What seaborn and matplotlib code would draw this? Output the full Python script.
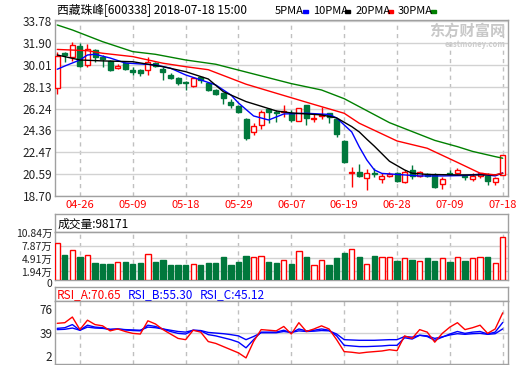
import matplotlib
matplotlib.use("Agg")
import matplotlib.pyplot as plt
from matplotlib.patches import Rectangle
from matplotlib.transforms import ScaledTranslation
import numpy as np
import seaborn as sns

sns.set_style("white")
plt.rcParams['font.family'] = ['Noto Sans CJK SC', 'DejaVu Sans']

# --- data ---
tick_idx = [3, 10, 17, 24, 31, 38, 45, 52, 59]
tick_labels = ["04-26", "05-09", "05-18", "05-29", "06-07", "06-19", "06-28", "07-09", "07-18"]
price_ticks = [18.70, 20.59, 22.47, 24.36, 26.24, 28.13, 30.01, 31.90, 33.78]

opens = [28.03, 31.07, 30.70, 31.67, 29.97, 31.30, 30.73, 30.36, 29.78, 30.16,
         29.58, 29.58, 29.58, 30.16, 29.64, 29.17, 28.86, 28.57, 28.22, 28.95,
         28.48, 27.85, 27.57, 26.84, 26.47, 25.35, 24.26, 24.83, 26.19, 25.98,
         25.93, 25.84, 25.20, 26.53, 25.35, 25.61, 25.84, 25.33, 23.45, 20.67,
         20.81, 20.24, 20.67, 20.13, 20.43, 20.67, 19.94, 20.95, 20.46, 20.58,
         20.52, 19.72, 20.67, 20.72, 20.43, 20.20, 20.43, 20.43, 19.94, 20.52]
highs = [31.13, 31.10, 31.99, 31.91, 31.78, 31.36, 30.87, 30.44, 30.07, 30.29,
         29.86, 29.64, 30.73, 30.24, 29.81, 29.29, 29.00, 28.66, 29.00, 29.00,
         28.57, 27.94, 27.62, 27.05, 26.56, 25.41, 24.98, 26.13, 26.27, 26.13,
         26.56, 26.13, 26.27, 26.59, 25.89, 26.36, 25.89, 25.41, 23.54, 21.24,
         21.47, 21.01, 21.09, 20.67, 20.75, 20.75, 20.95, 21.38, 20.89, 20.67,
         20.67, 20.32, 20.95, 21.15, 20.52, 20.67, 20.72, 20.67, 20.38, 22.26]
lows = [27.50, 30.27, 30.35, 29.85, 29.84, 30.30, 29.87, 29.50, 29.64, 29.58,
        29.15, 29.06, 29.15, 29.81, 28.72, 28.78, 28.28, 27.85, 28.14, 28.43,
        27.77, 27.42, 26.62, 26.27, 25.90, 23.54, 23.97, 24.49, 25.03, 25.12,
        25.55, 25.12, 25.20, 24.83, 25.12, 25.32, 25.03, 23.77, 21.58, 19.51,
        20.32, 19.22, 20.37, 19.80, 20.37, 19.94, 19.86, 20.18, 20.37, 20.32,
        19.42, 19.29, 20.52, 20.58, 20.09, 20.00, 20.24, 19.66, 19.66, 20.52]
closes = [30.79, 30.87, 31.74, 29.88, 31.35, 30.73, 30.50, 29.58, 29.92, 29.66,
          29.41, 29.29, 30.29, 29.92, 29.43, 28.91, 28.48, 28.43, 28.86, 28.72,
          27.85, 27.51, 27.14, 26.53, 25.93, 23.69, 24.77, 25.93, 25.98, 25.84,
          26.04, 25.26, 26.27, 25.41, 25.46, 25.70, 25.50, 24.03, 21.67, 20.80,
          20.46, 20.67, 20.61, 20.43, 20.61, 20.03, 20.81, 20.43, 20.81, 20.46,
          19.51, 20.15, 20.58, 20.95, 20.32, 20.43, 20.67, 20.03, 20.24, 22.26]

# volume in 万 shares
volume = [8.50, 5.64, 6.77, 5.19, 5.79, 3.84, 3.61, 3.61, 4.06, 4.06,
          3.61, 3.84, 6.02, 4.06, 4.59, 3.39, 3.39, 3.39, 3.76, 3.39,
          3.84, 3.84, 5.19, 3.39, 4.06, 5.42, 5.34, 5.57, 4.06, 3.84,
          4.51, 3.61, 6.55, 5.19, 3.31, 4.51, 3.39, 5.04, 6.09, 7.15,
          5.19, 3.76, 5.42, 5.34, 5.34, 4.36, 4.97, 4.59, 4.29, 4.97,
          4.36, 4.97, 4.14, 5.19, 4.36, 4.97, 5.19, 5.19, 3.84, 9.82]
vol_ticks = [0, 1.94, 4.91, 7.87, 10.84]
vol_labels = ["0", "1.94万", "4.91万", "7.87万", "10.84万"]

ma5_idx = [0, 1, 3, 4, 5, 7, 9, 13, 15, 17, 19, 21, 23, 24, 26, 28, 30, 33, 36, 37,
           39, 40, 41, 42, 43, 48, 51, 54, 56, 58, 59]
ma5 = [29.64, 29.92, 30.44, 30.87, 30.93, 30.61, 30.18, 30.01, 29.73, 29.15,
       28.72, 28.28, 27.42, 26.73, 25.61, 25.26, 25.78, 25.84, 25.74, 25.44,
       24.23, 22.94, 21.81, 20.95, 20.65, 20.43, 20.43, 20.47, 20.58, 20.43, 20.69]
ma10_idx = [0, 3, 6, 10, 14, 17, 20, 22, 25, 27, 29, 31, 35, 37, 39, 40, 41, 42, 44,
            46, 47, 49, 53, 58, 59]
ma10 = [30.87, 30.44, 30.36, 30.29, 29.86, 29.43, 28.80, 27.70, 26.85, 26.45,
        26.04, 25.87, 25.70, 25.44, 24.69, 24.23, 23.60, 23.00, 21.70, 20.95,
        20.67, 20.56, 20.52, 20.52, 20.65]
ma20_idx = [0, 4, 6, 10, 14, 17, 20, 25, 29, 34, 38, 40, 45, 49, 53, 56, 58, 59]
ma20 = [31.35, 31.24, 31.02, 30.73, 30.16, 29.86, 29.60, 28.35, 27.57, 26.60,
        25.84, 24.98, 23.45, 22.82, 21.60, 20.67, 20.52, 20.67]
ma30_idx = [0, 2, 6, 10, 13, 17, 21, 25, 31, 35, 38, 40, 44, 50, 53, 55, 58, 59]
ma30 = [33.46, 33.03, 32.02, 31.16, 30.93, 30.44, 30.07, 29.40, 28.40, 27.85,
        27.10, 26.41, 25.03, 23.50, 22.96, 22.55, 22.10, 21.96]

rsi_a = [54, 55, 64, 44, 59, 52, 50, 42, 45, 41,
         38, 37, 58, 53, 44, 37, 30, 28, 43, 40,
         25, 22, 17, 12, 7, -1, 25, 44, 43, 42,
         49, 37, 55, 41, 45, 50, 45, 28, 9, 8,
         6.5, 8, 9, 10, 12, 10.5, 34, 30, 44, 40,
         24, 38, 48, 55, 44, 47, 51, 38, 45, 70.65]
rsi_b = [46, 47, 52, 43, 51, 48, 47, 44, 45, 43.5,
         42.5, 42, 51, 49, 45, 41, 38, 37, 43, 42,
         36, 34, 31, 28, 24, 15, 28, 40, 40, 40,
         43, 39, 45, 42, 43, 45, 43, 34, 19, 18,
         17, 17, 17.5, 18, 19, 19, 31, 29, 35, 33,
         27, 32, 37, 41, 38, 40, 41, 37, 40, 55.30]
rsi_c = [44, 44.5, 46.5, 43, 48, 46.5, 46, 44.5, 45, 44,
         43.5, 43, 48, 47, 45, 43, 41, 40, 43, 42.5,
         39.5, 38.5, 37.5, 36, 34, 28, 33, 39, 39, 39,
         41, 39.5, 42, 41, 41.5, 42.5, 42, 37, 28, 27.5,
         27, 27, 27, 27.5, 28, 28, 33, 32, 35, 34,
         30, 32.5, 35.5, 37.5, 36.5, 37.5, 38, 36.5, 37.5, 45.12]
rsi_ticks = [2, 39, 76]

RED = '#ff0000'
GREEN = '#00783c'
GRID = '#d2d2d2'
SPINE = '#a0a0a0'
TXT = '#222222'

W, H = 520, 365
fig = plt.figure(figsize=(5.2, 3.65), dpi=100)


def box(l, t, r, b):
    return [l / W, 1 - b / H, (r - l) / W, (b - t) / H]


ax = fig.add_axes(box(55, 20, 508, 196))
axvt = fig.add_axes(box(55, 214, 508, 232))
axv = fig.add_axes(box(55, 232, 508, 280))
axrt = fig.add_axes(box(55, 287, 508, 301))
axr = fig.add_axes(box(55, 301, 508, 364))

n = len(closes)
x = np.arange(n)
up = [c >= o for o, c in zip(opens, closes)]

for a in (ax, axvt, axv, axrt, axr):
    for s in a.spines.values():
        s.set_color(SPINE)
        s.set_linewidth(1)
    a.set_xlim(-0.3, n - 0.3)
    a.tick_params(length=0, labelsize=8.5, colors=TXT, pad=2)

for a in (axvt, axrt):
    a.set_xticks([])
    a.set_yticks([])

# --- price panel ---
for i in x:
    col = RED if up[i] else GREEN
    ax.vlines(i, lows[i], highs[i], color=col, lw=1, zorder=2)
    lo, hi = min(opens[i], closes[i]), max(opens[i], closes[i])
    ax.bar(i, max(hi - lo, 0.03), bottom=lo, width=0.66,
           facecolor='white' if up[i] else GREEN, edgecolor=col, lw=1, zorder=3)

for idx, vals, col in [(ma5_idx, ma5, '#0000ff'), (ma10_idx, ma10, 'black'),
                       (ma20_idx, ma20, RED), (ma30_idx, ma30, '#008000')]:
    sns.lineplot(x=idx, y=vals, color=col, lw=1, ax=ax, legend=False, zorder=4)

ax.set_ylim(18.70, 33.89)
ax.set_yticks(price_ticks)
ax.set_yticklabels([f"{t:.2f}" for t in price_ticks])
ax.set_xticks(tick_idx)
ax.set_xticklabels(tick_labels, color=RED, fontsize=8)
ax.tick_params(axis='x', pad=3)
ax.grid(axis='y', color=GRID, lw=1)
ax.grid(axis='x', color='#c0c0c0', lw=1, ls=(0, (3, 3)))
ax.set_axisbelow(True)
ax.set_xlabel("")
ax.set_ylabel("")

ax.text(0.995, 0.985, "东方财富网", transform=ax.transAxes, ha='right', va='top',
        fontsize=11, fontweight='bold', color='#c8c8c8')
ax.text(0.995, 0.885, "eastmoney.com", transform=ax.transAxes, ha='right', va='top',
        fontsize=5.5, fontweight='bold', color='#cccccc')

# --- header ---
fig.text(57 / W, 1 - 10.5 / H, "西藏珠峰[600338] 2018-07-18 15:00", fontsize=8.5,
         color='black', va='center')
legend_items = [("5PMA", 275, 302.7, '#0000ff'), ("10PMA", 313, 345, 'black'),
                ("20PMA", 356, 388, RED), ("30PMA", 398, 431, '#008000')]
for name, tx, cx, col in legend_items:
    fig.text(tx / W, 1 - 10.5 / H, name, fontsize=8, color='black', va='center')
    fig.add_artist(Rectangle((cx / W, 1 - 12.5 / H), 5 / W, 2.5 / H,
                             transform=fig.transFigure, color=col))

# --- volume panel ---
axvt.text(0.006, 0.45, "成交量:98171", transform=axvt.transAxes, fontsize=8.5,
          va='center', color='black')
vcols = [RED if u else GREEN for u in up]
axv.bar(x, volume, width=0.7, facecolor=['white' if u else GREEN for u in up],
        edgecolor=vcols, lw=1, zorder=3)
axv.set_ylim(0, 10.95)
axv.set_yticks(vol_ticks)
axv.set_yticklabels(vol_labels)
axv.tick_params(axis='y', labelsize=7.5)
zero_lbl = axv.get_yticklabels()[0]
zero_lbl.set_transform(zero_lbl.get_transform() + ScaledTranslation(0, -2 / 72, fig.dpi_scale_trans))
axv.set_xticks(tick_idx)
axv.set_xticklabels([])
axv.grid(axis='y', color=GRID, lw=1)
axv.grid(axis='x', color='#c0c0c0', lw=1, ls=(0, (3, 3)))
axv.set_axisbelow(True)

# --- RSI panel ---
axrt.text(0.004, 0.45, "RSI_A:70.65", transform=axrt.transAxes, fontsize=8.5,
          va='center', color=RED)
axrt.text(0.161, 0.45, "RSI_B:55.30", transform=axrt.transAxes, fontsize=8.5,
          va='center', color='#0000ff')
axrt.text(0.320, 0.45, "RSI_C:45.12", transform=axrt.transAxes, fontsize=8.5,
          va='center', color='#0000ff')

sns.lineplot(x=x, y=rsi_c, color='#0000ff', lw=1, ax=axr, legend=False, zorder=3)
sns.lineplot(x=x, y=rsi_b, color='#0000ff', lw=1, ax=axr, legend=False, zorder=3)
sns.lineplot(x=x, y=rsi_a, color=RED, lw=1, ax=axr, legend=False, zorder=4)
axr.set_ylim(-10.7, 89.5)
axr.set_yticks(rsi_ticks)
axr.set_xticks(tick_idx)
axr.set_xticklabels([])
axr.axhline(39, color=GRID, lw=1, zorder=1)
axr.grid(axis='x', color='#c0c0c0', lw=1, ls=(0, (3, 3)))
axr.set_axisbelow(True)
axr.set_xlabel("")
axr.set_ylabel("")

fig.savefig("out.png", dpi=100)
